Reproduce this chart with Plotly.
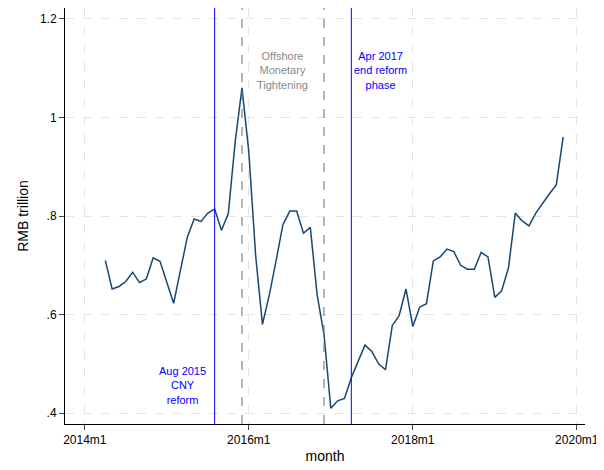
import plotly.graph_objects as go

start_index = 3  # 2014m4, months since 2014m1
values = [.71,.652,.657,.667,.686,.665,.672,.715,.708,
          .665,.623,.69,.757,.794,.789,.806,.814,.771,.805,.95,1.06,
          .93,.72,.58,.64,.71,.783,.81,.81,.765,.777,.64,.56,
          .41,.425,.43,.472,.505,.538,.525,.5,.488,.578,.598,.652,
          .576,.615,.622,.709,.717,.733,.728,.7,.692,.692,.726,.717,
          .635,.648,.695,.806,.79,.78,.806,.826,.845,.863,.96]
x = list(range(start_index, start_index + len(values)))
tick_vals = [0, 24, 48, 72]
tick_text = ["2014m1", "2016m1", "2018m1", "2020m1"]
y_ticks = [.4, .6, .8, 1, 1.2]
y_text = [".4", ".6", ".8", "1", "1.2"]
blue_lines = [19, 39]
gray_lines = [23, 35]

fig = go.Figure(go.Scatter(x=x, y=values, mode="lines", line=dict(color="#1a476f", width=1.5), showlegend=False))
for v in blue_lines:
    fig.add_vline(x=v, line=dict(color="blue", width=1))
for v in gray_lines:
    fig.add_vline(x=v, line=dict(color="#777777", width=1.1, dash="dash"))
fig.add_annotation(x=29, y=1.14, text="Offshore<br>Monetary<br>Tightening", showarrow=False,
                   font=dict(color="#888888", size=11), yanchor="top")
fig.add_annotation(x=43.3, y=1.14, text="Apr 2017<br>end reform<br>phase", showarrow=False,
                   font=dict(color="blue", size=11), yanchor="top")
fig.add_annotation(x=14.3, y=.41, text="Aug 2015<br>CNY<br>reform", showarrow=False,
                   font=dict(color="blue", size=11), yanchor="bottom")
fig.update_layout(width=596, height=462, paper_bgcolor="white", plot_bgcolor="white",
                  margin=dict(l=57, r=19, t=0, b=46, autoexpand=False),
                  font=dict(family="Liberation Sans, Arial", size=12, color="black"))
fig.update_xaxes(range=[-2.9, 73.2], tickvals=tick_vals, ticktext=tick_text, ticks="outside",
                 showline=True, linecolor="black", gridcolor="#e4e4e4", griddash="dash",
                 zeroline=False, automargin=False, title=dict(text="month", standoff=4))
fig.update_yaxes(range=[0.378, 1.222], tickvals=y_ticks, ticktext=y_text, ticks="outside",
                 showline=True, linecolor="black", gridcolor="#e4e4e4", griddash="dash",
                 zeroline=False, automargin=False, title=dict(text="RMB trillion", standoff=8))
fig.write_html("out.html")
